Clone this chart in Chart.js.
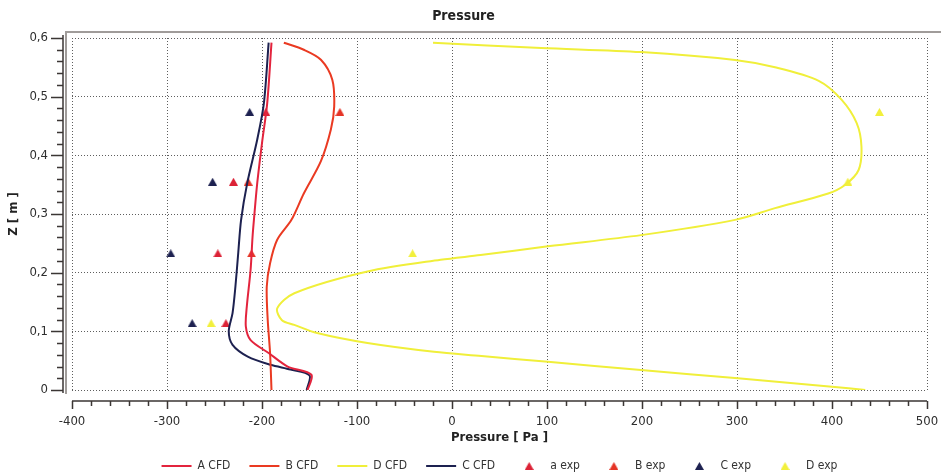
<!DOCTYPE html>
<html>
<head>
<meta charset="utf-8">
<script src="https://cdn.jsdelivr.net/npm/chart.js@4.4.1/dist/chart.umd.min.js"></script>
<style>
  html, body { margin: 0; padding: 0; background: #fff; }
  canvas { display: block; }
</style>
</head>
<body>
<canvas id="pressureChart" width="941" height="472"></canvas>
<script>
// CFD profiles: pressure [Pa] against height z [m]
var zA = [0, 0.026, 0.04, 0.063, 0.085, 0.108, 0.142, 0.205, 0.26, 0.29, 0.353, 0.421, 0.489, 0.592];
var pA = [-152, -148, -173, -193, -212, -217, -216, -212, -210, -208.5, -205, -200, -194.5, -190];

var zB = [0, 0.063, 0.12, 0.176, 0.216, 0.256, 0.29, 0.335, 0.39, 0.444, 0.483, 0.529, 0.563, 0.58, 0.592];
var pB = [-190, -191.5, -194, -195, -191.5, -184, -169, -156, -138, -127.5, -124, -126, -138, -156, -177];

var zD = [0.592, 0.583, 0.576, 0.5625, 0.55, 0.527, 0.495, 0.455, 0.415, 0.375, 0.35, 0.335, 0.31, 0.29, 0.264, 0.245,
  0.23, 0.222, 0.202, 0.165, 0.139, 0.119, 0.111, 0.097, 0.08, 0.065, 0.058, 0.048, 0.034, 0.02, 0.0057, 0];
var pD = [-20, 94, 199, 298, 340, 386, 410, 426, 431, 428, 414, 396, 340, 298, 199, 101,
  30, -12, -89, -166, -184, -179, -166, -142, -89, -19, 31, 101, 199, 301, 400, 435];

var zC = [0, 0.025, 0.035, 0.043, 0.057, 0.077, 0.1, 0.131, 0.176, 0.234, 0.29, 0.353, 0.427, 0.489, 0.592];
var pC = [-153, -150, -170, -191, -215, -231, -235, -231, -228, -225, -222, -215.5, -205, -198, -193];

// measured points
var zExp = [0.474, 0.355, 0.233, 0.114];
var pExpA = [-196, -230, -246.5, -238];
var pExpB = [-118, -214.5, -211];
var pExpC = [-213, -252, -296, -273.5];
var pExpD = [450, 416.7, -41.5, -253.5];

var xTicks = [-400, 500, 100];   // min, max, step
var yTicks = [0, 0.6, 0.1];

Chart.defaults.font.family = '"DejaVu Sans Condensed", "DejaVu Sans", sans-serif';
Chart.defaults.color = '#2e2e2e';

function toPoints(p, z) {
  return p.map(function (v, i) { return { x: v, y: z[i] }; });
}

// small filled triangle used as marker and legend symbol
function triangle(color) {
  var c = document.createElement('canvas');
  c.width = 9;
  c.height = 8;
  var g = c.getContext('2d');
  g.fillStyle = color;
  g.beginPath();
  g.moveTo(4.5, 0);
  g.lineTo(9, 8);
  g.lineTo(0, 8);
  g.closePath();
  g.fill();
  return c;
}

function cfd(label, p, z, color) {
  return {
    label: label,
    data: toPoints(p, z),
    showLine: true,
    borderColor: color,
    backgroundColor: color,
    borderWidth: 2,
    pointRadius: 0,
    pointHoverRadius: 0,
    pointStyle: 'line',
    tension: 0.3
  };
}

function exp(label, p, z, color) {
  return {
    label: label,
    data: toPoints(p, z),
    showLine: false,
    borderColor: color,
    backgroundColor: color,
    borderWidth: 0,
    pointRadius: 4.5,
    pointStyle: triangle(color)
  };
}

// detached axes with minor ticks, plus the grey frame
var axisMarks = {
  id: 'axisMarks',
  beforeDatasetsDraw: function (chart) {
    var ctx = chart.ctx, a = chart.chartArea, x = chart.scales.x, y = chart.scales.y;
    ctx.save();
    ctx.strokeStyle = '#a09c9a';
    ctx.lineWidth = 2;
    ctx.beginPath();
    ctx.moveTo(a.left - 6, a.bottom + 4);
    ctx.lineTo(a.left - 6, a.top - 6);
    ctx.lineTo(chart.width, a.top - 6);
    ctx.stroke();

    ctx.strokeStyle = '#3b3634';
    ctx.lineWidth = 1.5;
    ctx.beginPath();
    var ax = a.left - 9;
    ctx.moveTo(ax, y.getPixelForValue(yTicks[1]) - 3);
    ctx.lineTo(ax, y.getPixelForValue(yTicks[0]) + 3);
    for (var i = 0; i <= 30; i++) {
      var py = Math.round(y.getPixelForValue(i * 0.02)) + 0.5;
      var len = i % 5 === 0 ? 12 : 6;
      ctx.moveTo(ax, py);
      ctx.lineTo(ax - len, py);
    }
    var ay = a.bottom + 11;
    ctx.moveTo(x.getPixelForValue(xTicks[0]), ay);
    ctx.lineTo(x.getPixelForValue(xTicks[1]), ay);
    for (var j = 0; j <= 45; j++) {
      var px = Math.round(x.getPixelForValue(xTicks[0] + j * 20)) + 0.5;
      var tl = j % 5 === 0 ? 8 : 5;
      ctx.moveTo(px, ay);
      ctx.lineTo(px, ay + tl);
    }
    ctx.stroke();
    ctx.restore();
  }
};

var ctx = document.getElementById('pressureChart').getContext('2d');
var pressureChart = new Chart(ctx, {
  type: 'scatter',
  data: {
    datasets: [
      cfd('A CFD', pA, zA, '#e3243d'),
      cfd('B CFD', pB, zB, '#ea3a22'),
      cfd('D CFD', pD, zD, '#f0ef3a'),
      cfd('C CFD', pC, zC, '#1d2150'),
      exp('a exp', pExpA, zExp, '#dc2236'),
      exp('B exp', pExpB, zExp, '#e53426'),
      exp('C exp', pExpC, zExp, '#1d2150'),
      exp('D exp', pExpD, zExp, '#f2f03c')
    ]
  },
  options: {
    responsive: false,
    animation: false,
    layout: { padding: { left: 0, right: 14, top: 0, bottom: 0 } },
    plugins: {
      title: {
        display: true,
        text: 'Pressure',
        color: '#222',
        font: { size: 14, weight: 'bold' },
        padding: { top: 8, bottom: 13.2 }
      },
      legend: {
        position: 'bottom',
        fullSize: false,
        maxHeight: 31,
        labels: {
          usePointStyle: true,
          pointStyleWidth: 30,
          boxHeight: 6,
          padding: 19,
          color: '#333',
          font: { size: 12 }
        }
      },
      tooltip: { enabled: false }
    },
    scales: {
      x: {
        type: 'linear',
        min: xTicks[0],
        max: xTicks[1],
        afterFit: function (s) {
          s.height = 51;
          s.paddingLeft = 0;
          s.paddingRight = 0;
        },
        ticks: { stepSize: xTicks[2], padding: 24, font: { size: 13 } },
        grid: { color: '#5e5e5e', lineWidth: 1, drawTicks: false },
        border: { display: false, dash: [1, 2] },
        title: {
          display: true,
          text: 'Pressure [ Pa ]',
          color: '#222',
          font: { size: 13, weight: 'bold', lineHeight: '6px' },
          padding: 0
        }
      },
      y: {
        min: yTicks[0],
        max: yTicks[1],
        afterFit: function (s) {
          s.width = 72;
          s.paddingTop = 0;
          s.paddingBottom = 0;
        },
        ticks: {
          stepSize: yTicks[2],
          padding: 24,
          font: { size: 13 },
          callback: function (v) { return v === 0 ? '0' : v.toFixed(1).replace('.', ','); }
        },
        grid: { color: '#5e5e5e', lineWidth: 1, drawTicks: false },
        border: { display: false, dash: [1, 2] },
        title: {
          display: true,
          text: 'Z [ m ]',
          color: '#222',
          font: { size: 13, weight: 'bold' },
          padding: { top: 6, bottom: 0 }
        }
      }
    }
  },
  plugins: [axisMarks]
});
</script>
</body>
</html>
